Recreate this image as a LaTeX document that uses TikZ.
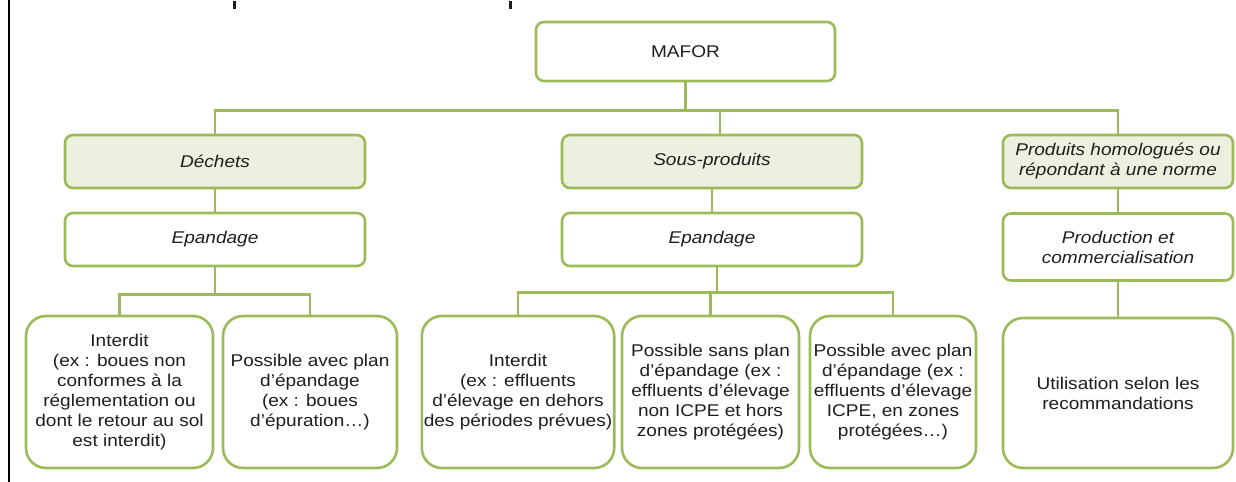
\documentclass[tikz,border=0pt]{standalone}
\usepackage{fontspec}
\setmainfont{Liberation Sans}[FakeStretch=1.12]
\definecolor{vert}{RGB}{155,187,89}
\definecolor{vertclair}{RGB}{235,241,222}
\definecolor{texte}{RGB}{30,30,30}
\tikzset{
  boite/.style={draw=vert, line width=2.6bp, rounded corners=8bp, minimum height=52bp,
    inner sep=2bp, align=center, text=texte, font=\fontsize{17bp}{20bp}\selectfont},
  categorie/.style={boite, fill=vertclair, font=\fontsize{17bp}{20bp}\selectfont\itshape},
  mode/.style={boite, font=\fontsize{17bp}{20bp}\selectfont\itshape},
  cas/.style={boite, rounded corners=20bp, minimum height=152bp},
  lien/.style={draw=vert, line width=2.6bp},
}
\begin{document}
\begin{tikzpicture}[x=1bp, y=-1bp]
    \useasboundingbox (0,0) rectangle (1236,482);

    % cadre a gauche et restes de la ligne au-dessus
    \fill[black] (8,0) rectangle (10,482);
    \fill[texte] (233,1) rectangle (235.5,9);
    \fill[texte] (509,1) rectangle (511.5,9);

    % racine
    \node[boite, minimum width=299bp, minimum height=59bp] (mafor) at (685.5,51.5) {MAFOR};

    % categories
    \node[categorie, minimum width=300bp, minimum height=53bp] (dechets) at (215,161.5) {Déchets};
    \node[categorie, minimum width=300bp, minimum height=53bp] (sousprod) at (712,161.5) {Sous-produits};
    \node[categorie, minimum width=230bp, minimum height=53bp] (produits) at (1118,161.5) {Produits homologués ou\\répondant à une norme};

    % modes
    \node[mode, minimum width=300bp, minimum height=53bp] (epand1) at (215,239.5) {Epandage};
    \node[mode, minimum width=300bp, minimum height=53bp] (epand2) at (712,239.5) {Epandage};
    \node[mode, minimum width=230bp, minimum height=67bp] (prodcom) at (1118,247) {Production et\\commercialisation};

    % cas
    \node[cas, minimum width=187bp] (cas1) at (119.5,392) {Interdit\\(ex : boues non\\conformes à la\\réglementation ou\\dont le retour au sol\\est interdit)};
    \node[cas, minimum width=174bp] (cas2) at (310,392) {Possible avec plan\\d’épandage\\(ex : boues\\d’épuration…)};
    \node[cas, minimum width=186bp] (cas3) at (518,392) {Interdit\\(ex : effluents\\d’élevage en dehors\\des périodes prévues)};
    \node[cas, minimum width=177bp] (cas4) at (710.5,392) {Possible sans plan\\d’épandage (ex :\\effluents d’élevage\\non ICPE et hors\\zones protégées)};
    \node[cas, minimum width=166bp] (cas5) at (893,392) {Possible avec plan\\d’épandage (ex :\\effluents d’élevage\\ICPE, en zones\\protégées…)};
    \node[cas, minimum width=230bp, minimum height=150bp] (cas6) at (1118,393) {Utilisation selon les\\recommandations};

    % liens du haut
    \draw[lien] (mafor.south) -- ++(0,28) coordinate (barre);
    \draw[lien] (barre) -| (dechets.north);
    \draw[lien] (barre) -| ([xshift=8bp]sousprod.north);
    \draw[lien] (barre) -| (produits.north);

    \draw[lien] (dechets.south) -- (epand1.north);
    \draw[lien] (sousprod.south) -- (epand2.north);
    \draw[lien] (produits.south) -- (prodcom.north);

    % liens du bas
    \draw[lien] (epand1.south) -- ++(0,27) coordinate (barre1);
    \draw[lien] (barre1) -| (cas1.north);
    \draw[lien] (barre1) -| (cas2.north);

    \draw[lien] ([xshift=5bp]epand2.south) -- ++(0,25) coordinate (barre2);
    \draw[lien] (barre2) -| (cas3.north);
    \draw[lien] (barre2) -| (cas4.north);
    \draw[lien] (barre2) -| (cas5.north);

    \draw[lien] (prodcom.south) -- (cas6.north);
\end{tikzpicture}
\end{document}
